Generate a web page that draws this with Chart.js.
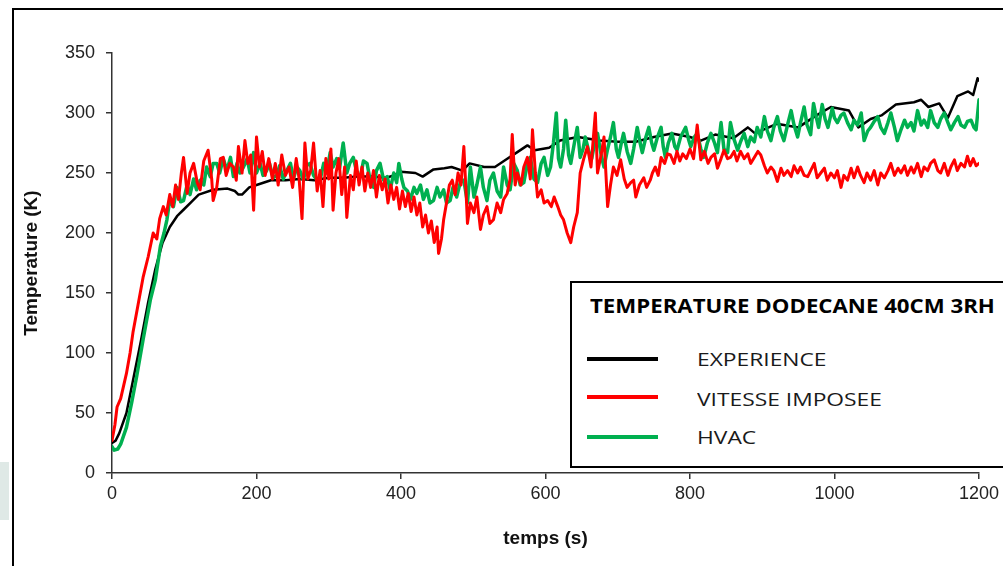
<!DOCTYPE html>
<html>
<head>
<meta charset="utf-8">
<script src="https://cdn.jsdelivr.net/npm/chart.js@4.4.0/dist/chart.umd.min.js"></script>
<style>
html, body { margin: 0; padding: 0; background: #fff; }
#wrap { position: relative; width: 1003px; height: 566px; overflow: hidden; background: #fff; }
#chart { position: absolute; left: 0; top: 0; }
#frame { position: absolute; left: 12px; top: 8px; width: 1200px; height: 800px; border-left: 2.5px solid #000; border-top: 2.5px solid #000; }
#blob { position: absolute; left: 0; top: 462px; width: 9px; height: 58px; background: #dfe9e6; }
#legend { position: absolute; left: 570px; top: 281px; width: 460px; height: 183px; border: 2.5px solid #000; background: #fff; }
.ltext { position: absolute; font-family: "Open Sans", sans-serif; font-size: 19px; line-height: 19px; color: #1a1a1a; white-space: nowrap; transform: scaleX(1.2); transform-origin: left center; }
.lline { position: absolute; left: 587px; width: 71px; height: 4px; }
</style>
</head>
<body>
<div id="wrap">
  <div id="blob"></div>
  <div id="frame"></div>
  <canvas id="chart" width="1003" height="566"></canvas>
  <div id="legend"></div>
  <div class="ltext" id="legend-title" style="left:590px; top:297px; font-weight:700; color:#000; transform:scaleX(1.17);"></div>
  <div class="lline" id="line-0" style="top:357px;"></div>
  <div class="ltext" id="label-0" style="left:697px; top:350px;"></div>
  <div class="lline" id="line-1" style="top:395px;"></div>
  <div class="ltext" id="label-1" style="left:697px; top:390px;"></div>
  <div class="lline" id="line-2" style="top:435px;"></div>
  <div class="ltext" id="label-2" style="left:697px; top:428px;"></div>
</div>
<script>
// =================================================================
// Data (time in s, temperature in K)
// =================================================================
const LEGEND_TITLE = 'TEMPERATURE DODECANE 40CM 3RH';
const seriesNames = ['EXPERIENCE', 'VITESSE IMPOSEE', 'HVAC'];
const seriesColors = ['#000000', '#ff0000', '#00b050'];

const xTicks = [0, 200, 400, 600, 800, 1000, 1200];
const yTicks = [0, 50, 100, 150, 200, 250, 300, 350];

const experience = [[0,25],[5,27],[10,33],[20,50],[30,80],[40,110],[50,142],[60,170],[70,192],[80,205],
  [90,214],[100,220],[110,226],[120,232],[140,236],[160,237],[170,235],[175,232],[180,232],[190,238],
  [200,240],[220,244],[240,244],[260,245],[280,244],[300,246],[320,246],[340,247],[360,247],[380,246],
  [390,248],[400,251],[420,250],[430,247],[445,253],[460,254],[470,255],[485,252],[495,258],[515,255],
  [530,255],[545,261],[560,267],[575,273],[585,269],[605,271],[620,277],[645,280],[675,277],[700,276],
  [725,276],[750,280],[775,283],[800,280],[815,277],[835,282],[860,279],[880,288],[890,283],[920,291],
  [950,288],[975,298],[995,305],[1020,302],[1033,288],[1050,295],[1065,298],[1085,307],[1110,309],[1120,311],
  [1130,305],[1145,308],[1157,296],[1170,314],[1185,318],[1192,315],[1198,329],[1200,327]];

const vitesse = [[0,27],[4,40],[7,55],[12,62],[20,83],[25,100],[29,117],[36,140],[43,163],[50,180],[57,200],[62,195],
  [66,212],[71,222],[75,215],[80,232],[84,222],[88,240],[92,228],[96,250],[99,263],[104,233],[108,250],[113,258],
  [118,242],[122,236],[127,260],[133,269],[138,245],[140,227],[145,238],[150,262],[154,263],[158,248],[163,258],
  [168,255],[172,244],[175,272],[180,250],[184,277],[188,258],[192,265],[196,219],[200,280],[204,255],[208,268],
  [212,248],[217,262],[222,245],[226,258],[230,240],[235,265],[240,248],[245,255],[250,238],[255,262],[259,245],
  [263,212],[267,275],[271,245],[275,252],[279,275],[284,235],[288,252],[292,222],[296,262],[300,245],[303,270],
  [306,219],[310,250],[314,262],[318,232],[322,255],[325,213],[330,248],[334,236],[338,260],[342,240],[346,255],
  [350,235],[354,250],[358,238],[362,252],[366,230],[370,248],[374,236],[378,245],[382,225],[386,240],[390,228],
  [394,238],[398,220],[402,235],[406,222],[410,233],[414,218],[418,230],[422,215],[426,225],[430,205],[434,215],
  [438,200],[442,210],[446,192],[450,205],[452,183],[456,195],[459,211],[463,225],[467,240],[471,244],[475,232],
  [479,250],[483,240],[487,272],[490,235],[492,208],[496,225],[501,217],[505,230],[510,203],[514,215],[519,222],
  [523,208],[528,211],[533,225],[538,217],[542,228],[547,233],[551,245],[554,282],[558,240],[561,250],[566,240],
  [570,255],[575,263],[579,245],[582,286],[586,250],[589,230],[594,236],[598,225],[603,227],[608,222],[612,230],
  [617,222],[621,215],[625,211],[630,200],[635,192],[639,205],[644,217],[648,250],[653,262],[658,272],[663,255],
  [669,300],[672,250],[677,265],[681,280],[686,222],[690,240],[694,255],[699,248],[704,261],[709,245],[713,238],
  [718,242],[722,244],[725,230],[730,240],[736,246],[740,238],[745,244],[748,250],[752,255],[756,248],[760,263],
  [765,258],[769,266],[773,265],[778,258],[782,268],[786,260],[790,266],[795,262],[800,270],[805,262],[810,290],
  [815,261],[820,268],[825,258],[829,263],[834,266],[838,254],[843,262],[847,269],[852,262],[856,263],[861,268],
  [865,260],[870,268],[875,262],[880,266],[884,258],[889,263],[894,268],[898,265],[903,256],[907,250],[912,255],
  [916,252],[921,243],[926,254],[930,248],[935,252],[940,247],[944,256],[949,250],[953,255],[958,248],[963,247],
  [967,252],[972,258],[976,246],[981,250],[986,254],[990,244],[995,250],[1000,246],[1004,252],[1009,238],[1013,248],
  [1018,244],[1023,254],[1027,246],[1032,255],[1036,248],[1041,242],[1045,250],[1050,244],[1055,252],[1060,240],
  [1064,250],[1069,246],[1074,252],[1078,258],[1083,248],[1088,254],[1092,250],[1097,256],[1101,248],[1106,255],
  [1110,250],[1115,258],[1120,247],[1124,255],[1129,252],[1133,258],[1138,261],[1143,252],[1147,250],[1152,258],
  [1157,248],[1161,255],[1166,261],[1170,252],[1175,258],[1180,255],[1184,264],[1188,256],[1192,262],[1196,256],[1200,258]];

const hvac = [[0,22],[3,19],[8,20],[12,24],[20,38],[27,58],[34,80],[43,111],[53,144],[60,161],[67,189],[72,200],
  [76,211],[80,228],[85,222],[90,238],[95,226],[99,227],[104,240],[108,232],[113,245],[117,236],[122,244],[127,240],
  [131,255],[136,247],[140,258],[145,258],[149,250],[154,262],[159,252],[164,263],[168,247],[173,258],[177,250],
  [182,255],[187,262],[191,250],[196,267],[200,250],[205,258],[209,248],[214,252],[218,258],[223,246],[228,248],
  [232,256],[237,245],[242,252],[247,258],[251,245],[256,255],[260,252],[265,244],[269,256],[274,258],[279,248],
  [284,244],[288,244],[293,258],[297,250],[302,267],[306,255],[311,262],[315,254],[320,275],[325,250],[329,258],
  [334,263],[339,250],[344,247],[348,260],[353,258],[357,245],[362,238],[366,252],[371,258],[376,244],[381,247],
  [385,236],[390,250],[394,242],[397,258],[401,245],[404,238],[409,235],[413,228],[418,238],[422,233],[427,240],
  [431,228],[436,236],[440,225],[445,227],[450,238],[454,230],[459,236],[463,225],[468,227],[472,238],[477,230],
  [482,242],[487,244],[492,225],[496,255],[501,230],[505,240],[510,255],[514,238],[519,227],[523,244],[528,250],
  [533,235],[538,230],[542,255],[547,240],[551,236],[556,258],[561,252],[565,240],[570,242],[575,258],[579,263],
  [584,245],[589,242],[594,258],[598,263],[603,248],[607,255],[611,275],[615,300],[618,262],[621,255],[625,270],
  [628,294],[632,265],[635,258],[640,275],[644,288],[648,263],[652,270],[655,280],[660,268],[664,262],[668,275],
  [672,283],[677,265],[681,255],[686,270],[690,280],[694,292],[698,270],[701,263],[705,275],[708,283],[713,268],
  [718,258],[722,270],[727,288],[731,275],[734,267],[739,280],[743,288],[747,275],[750,269],[755,280],[760,288],
  [763,272],[766,263],[770,275],[775,283],[779,272],[782,269],[787,280],[794,288],[798,278],[801,272],[806,280],
  [810,283],[815,270],[819,263],[824,275],[829,283],[834,275],[838,267],[843,292],[847,270],[852,267],[856,292],
  [861,278],[866,269],[870,276],[875,283],[880,272],[884,280],[889,276],[893,288],[898,280],[903,297],[907,285],
  [912,277],[916,288],[921,297],[925,285],[930,277],[935,290],[940,302],[944,290],[949,280],[953,292],[958,305],
  [962,290],[967,282],[971,308],[975,296],[978,288],[983,307],[987,295],[991,288],[997,304],[1000,296],[1004,292],
  [1009,298],[1013,300],[1018,292],[1023,286],[1027,294],[1032,290],[1037,300],[1041,277],[1046,285],[1050,288],
  [1055,293],[1060,297],[1064,288],[1069,283],[1074,292],[1078,300],[1083,288],[1087,277],[1092,286],[1097,294],
  [1101,288],[1106,292],[1110,285],[1115,302],[1120,290],[1124,294],[1129,288],[1133,302],[1138,292],[1143,288],
  [1147,295],[1152,300],[1157,292],[1161,286],[1166,292],[1171,297],[1175,290],[1180,288],[1184,293],[1189,294],
  [1193,288],[1196,286],[1200,311]];

// =================================================================
// Chart
// =================================================================
const AXIS_FONT = '"Liberation Sans", Arial, sans-serif';
const toPoints = arr => arr.map(p => ({ x: p[0], y: p[1] }));

const datasets = [
    { label: seriesNames[0], data: toPoints(experience), borderColor: seriesColors[0], borderWidth: 2.5, order: 3 },
    { label: seriesNames[1], data: toPoints(vitesse), borderColor: seriesColors[1], borderWidth: 3, order: 1 },
    { label: seriesNames[2], data: toPoints(hvac), borderColor: seriesColors[2], borderWidth: 3.5, order: 2 }
];

const axisCommon = {
    border: { display: true, color: '#333', width: 1.5 },
    grid: { drawOnChartArea: false, drawTicks: true, tickLength: 6, color: '#333', lineWidth: 1.5 }
};

new Chart(document.getElementById('chart'), {
    type: 'line',
    data: { datasets: datasets },
    options: {
        responsive: false,
        animation: false,
        layout: { padding: { top: 53, right: 23, left: 0, bottom: 0 } },
        plugins: { legend: { display: false }, tooltip: { enabled: false } },
        elements: {
            point: { radius: 0 },
            line: { tension: 0, borderJoinStyle: 'round', borderCapStyle: 'round', fill: false }
        },
        scales: {
            x: {
                ...axisCommon,
                type: 'linear',
                min: 0,
                max: 1200,
                afterBuildTicks: s => { s.ticks = xTicks.map(v => ({ value: v })); },
                afterFit: s => { s.height = 93; },
                ticks: { color: '#222', font: { family: AXIS_FONT, size: 18 }, padding: 4, maxRotation: 0, callback: v => String(v) },
                title: { display: true, text: 'temps (s)', color: '#111', font: { family: AXIS_FONT, size: 19, weight: 'bold' }, padding: { top: 0, bottom: 16 } }
            },
            y: {
                ...axisCommon,
                min: 0,
                max: 350,
                afterBuildTicks: s => { s.ticks = yTicks.map(v => ({ value: v })); },
                afterFit: s => { s.width = 112; },
                ticks: { color: '#222', font: { family: AXIS_FONT, size: 18 }, padding: 11, callback: v => String(v) },
                title: { display: true, text: 'Temperature (K)', color: '#111', font: { family: AXIS_FONT, size: 19, weight: 'bold' }, padding: { top: 20, bottom: 0 } }
            }
        }
    }
});

// --- legend box (drawn as HTML over the plot) ---
document.getElementById('legend-title').textContent = LEGEND_TITLE;
seriesNames.forEach((name, i) => {
    document.getElementById('label-' + i).textContent = name;
    document.getElementById('line-' + i).style.background = seriesColors[i];
});
</script>
</body>
</html>
